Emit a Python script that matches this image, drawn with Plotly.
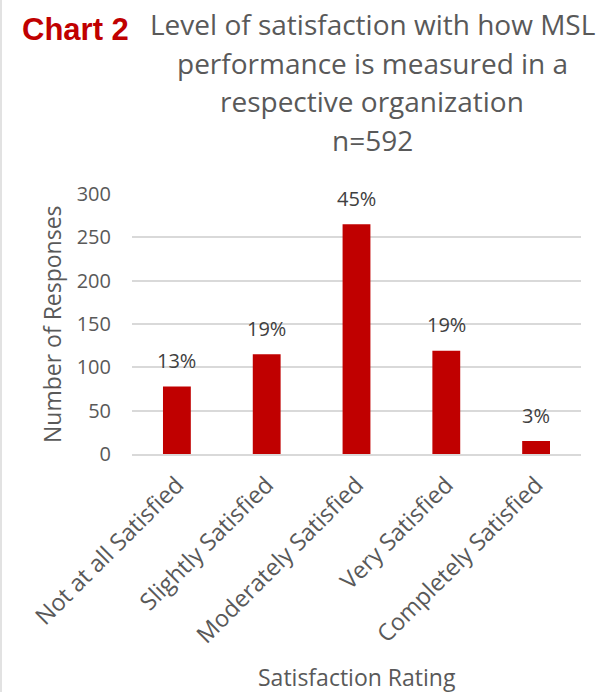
import plotly.graph_objects as go

categories = ["Not at all Satisfied", "Slightly Satisfied", "Moderately Satisfied",
              "Very Satisfied", "Completely Satisfied"]
responses = [78, 115, 265, 119, 15]
pct_labels = ["13%", "19%", "45%", "19%", "3%"]
y_ticks = [0, 50, 100, 150, 200, 250, 300]
title_lines = ["Level of satisfaction with how MSL", "performance is measured in a",
               "respective organization", "n=592"]

W, H = 599, 692
L, R, T, B = 132, 18, 194, 238
PW, PH = W - L - R, H - T - B
GRAY = "#595959"
RED = "#C00000"
FONT = "Open Sans"


def px_x(x):
    return (x - L) / PW


def px_y(y):
    return (H - B - y) / PH


fig = go.Figure()
fig.add_trace(go.Bar(x=categories, y=responses, marker_color=RED, width=0.31,
                     marker_line_width=0, hoverinfo="skip"))

annotations = []
for c, v, t in zip(categories, responses, pct_labels):
    annotations.append(dict(x=c, y=v, xref="x", yref="y", text=t, showarrow=False,
                            yanchor="middle", yshift=26,
                            font=dict(family=FONT, size=20, color="#404040")))

title_y = [24, 63, 101, 140]
for line, yy in zip(title_lines, title_y):
    annotations.append(dict(x=px_x(372), y=px_y(yy), xref="paper", yref="paper",
                            text=line, showarrow=False, xanchor="center", yanchor="middle",
                            font=dict(family=FONT, size=28, color=GRAY)))

annotations.append(dict(x=px_x(20), y=px_y(29), xref="paper", yref="paper",
                        text="<b>Chart 2</b>", showarrow=False, xanchor="left",
                        yanchor="middle",
                        font=dict(family="Liberation Sans", size=31, color=RED)))

annotations.append(dict(x=px_x(357), y=px_y(677), xref="paper", yref="paper",
                        text="Satisfaction Rating", showarrow=False, xanchor="center",
                        yanchor="middle", font=dict(family=FONT, size=23, color=GRAY)))

annotations.append(dict(x=px_x(52), y=px_y(324), xref="paper", yref="paper",
                        text="Number of Responses", showarrow=False, textangle=-90,
                        xanchor="center", yanchor="middle",
                        font=dict(family=FONT, size=23, color=GRAY)))

shapes = [dict(type="line", xref="paper", yref="paper",
               x0=px_x(1), x1=px_x(1), y0=px_y(H), y1=px_y(0),
               line=dict(color="#D9D9D9", width=1.5))]

fig.update_layout(
    width=W, height=H,
    margin=dict(l=L, r=R, t=T, b=B, autoexpand=False),
    paper_bgcolor="white", plot_bgcolor="white",
    showlegend=False,
    annotations=annotations,
    shapes=shapes,
    bargap=0.69,
)
fig.update_xaxes(showgrid=False, showline=True, linecolor="#D9D9D9", linewidth=1.5,
                 tickangle=-45, ticks="", ticklabelstandoff=6,
                 tickfont=dict(family=FONT, size=23.5, color=GRAY))
fig.update_yaxes(range=[0, 300], tickvals=y_ticks, showgrid=True, gridcolor="#D9D9D9",
                 gridwidth=1.5, zeroline=False, showline=False, ticks="",
                 ticklabelstandoff=20,
                 tickfont=dict(family=FONT, size=20, color=GRAY))

fig.write_html("out.html")
